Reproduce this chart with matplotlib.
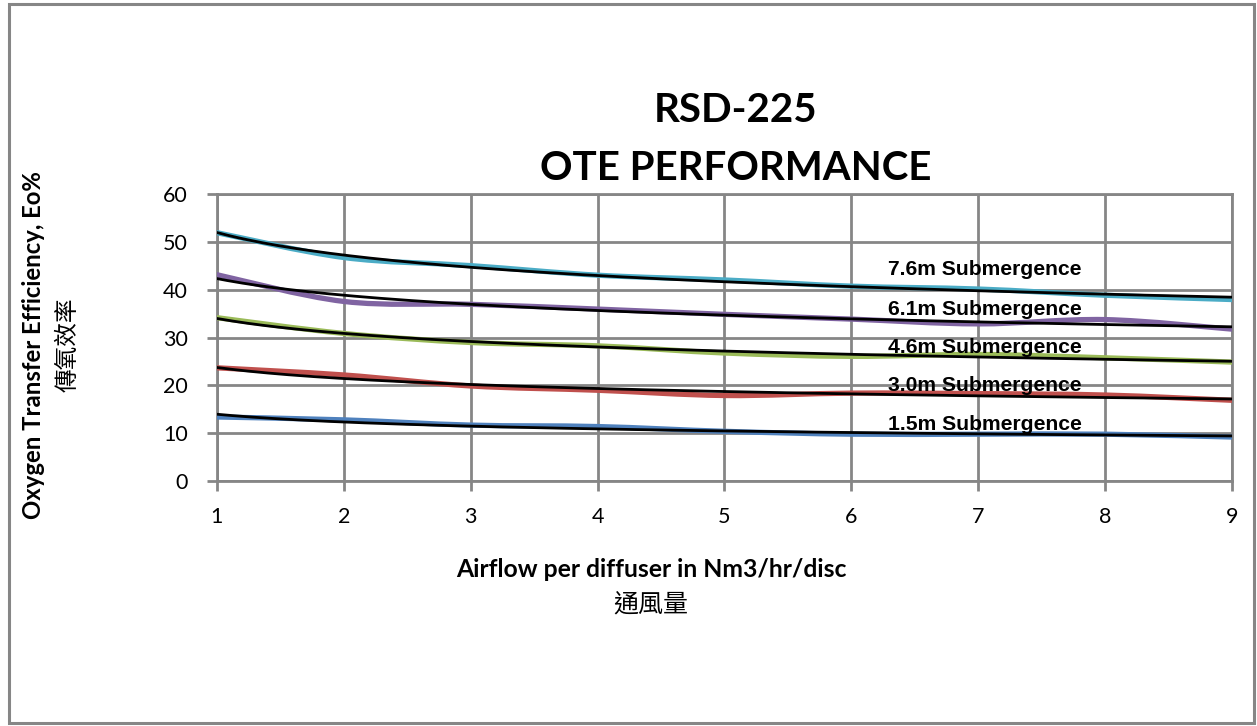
import numpy as np
import matplotlib
matplotlib.use("Agg")
import matplotlib.pyplot as plt
from matplotlib.path import Path
from matplotlib.patches import PathPatch, Rectangle

# airflow per diffuser (Nm3/hr/disc)
airflow = [1, 2, 3, 4, 5, 6, 7, 8, 9]

ote_76 = [52.0, 46.8, 45.1, 43.1, 42.1, 40.8, 40.2, 38.9, 38.0]
ote_61 = [43.2, 37.6, 37.0, 36.0, 34.9, 33.9, 32.9, 33.8, 31.8]
ote_46 = [34.2, 30.9, 29.0, 28.3, 26.8, 26.1, 26.5, 25.8, 24.9]
ote_30 = [23.7, 22.2, 19.9, 19.0, 17.9, 18.4, 18.3, 18.0, 16.9]
ote_15 = [13.4, 12.8, 11.7, 11.4, 10.4, 9.8, 9.8, 9.8, 9.2]

series = [ote_76, ote_61, ote_46, ote_30, ote_15]
labels = ["7.6m Submergence", "6.1m Submergence", "4.6m Submergence",
          "3.0m Submergence", "1.5m Submergence"]
colors = ["#4BACC6", "#8064A2", "#9BBB59", "#C0504D", "#4F81BD"]

CJK = ["Lato", "Noto Sans CJK TC"]


def smooth_path(x, y):
    # Excel-style smoothed line: Catmull-Rom converted to cubic Bezier
    pts = np.column_stack((x, y)).astype(float)
    ext = np.vstack((pts[0], pts, pts[-1]))
    verts = [pts[0]]
    codes = [Path.MOVETO]
    for i in range(1, len(ext) - 2):
        p0, p1, p2, p3 = ext[i - 1], ext[i], ext[i + 1], ext[i + 2]
        verts += [p1 + (p2 - p0) / 6, p2 - (p3 - p1) / 6, p2]
        codes += [Path.CURVE4] * 3
    return Path(verts, codes)


fig = plt.figure(figsize=(12.57, 7.26), dpi=100)
ax = fig.add_axes([0.1726, 0.3375, 0.8075, 0.3946])

grid_c = "#868686"
x = np.array(airflow, dtype=float)
xs = np.linspace(1, 9, 200)

for vals, col in zip(series, colors):
    patch = PathPatch(smooth_path(x, vals), facecolor="none", edgecolor=col,
                      lw=3.8, zorder=3, capstyle="round")
    ax.add_patch(patch)
    # power trendline, as Excel draws it
    b, a = np.polyfit(np.log(x), np.log(vals), 1)
    ax.plot(xs, np.exp(a) * xs ** b, color="black", lw=2.0, zorder=4)

label_pos = [(6.29, 44.2), (6.29, 36.0), (6.29, 28.0), (6.29, 19.9), (6.29, 11.9)]
for (lx, ly), txt in zip(label_pos, labels):
    ax.text(lx, ly, txt, fontsize=15.2, fontweight="bold",
            family="Liberation Sans", va="center", ha="left", zorder=5)

ax.set_xlim(1, 9)
ax.set_ylim(0, 60)
ax.set_xticks(airflow)
ax.set_yticks(range(0, 61, 10))
ax.grid(True, color=grid_c, lw=2)
ax.set_axisbelow(True)
for s in ax.spines.values():
    s.set_color(grid_c)
    s.set_linewidth(2)
ax.tick_params(colors=grid_c, width=2, length=7, labelsize=15.5, labelcolor="black")
for lab in ax.get_xticklabels() + ax.get_yticklabels():
    lab.set_family("Lato")
ax.tick_params(axis="x", pad=12)
ax.tick_params(axis="y", pad=14)

fig.text(0.5855, 0.848, "RSD-225", ha="center", va="center",
         fontsize=29, fontweight="bold", family="Lato")
fig.text(0.5855, 0.768, "OTE PERFORMANCE", ha="center", va="center",
         fontsize=29, fontweight="bold", family="Lato")

fig.text(0.518, 0.215, "Airflow per diffuser in Nm3/hr/disc", ha="center",
         va="center", fontsize=17.8, fontweight="bold", family=CJK)
fig.text(0.518, 0.169, "通風量", ha="center", va="center", fontsize=18,
         family=CJK)

fig.text(0.027, 0.525, "Oxygen Transfer Efficiency, Eo%", rotation=90,
         ha="center", va="center", fontsize=17.2, fontweight="bold", family=CJK)
fig.text(0.054, 0.525, "傳氧效率", rotation=90, ha="center", va="center",
         fontsize=17, family=CJK)

# outer chart-area border
fig.add_artist(Rectangle((0.0068, 0.004), 0.9907, 0.9905, transform=fig.transFigure,
                         fill=False, edgecolor=grid_c, lw=2.2))

fig.savefig("out.png", dpi=100)
